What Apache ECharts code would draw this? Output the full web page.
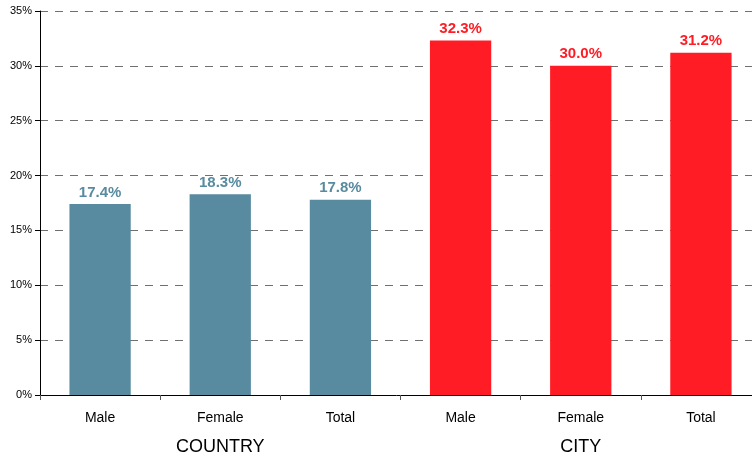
<!DOCTYPE html>
<html>
<head>
	<meta charset="utf-8">
	<title></title>
    <script src="https://cdn.jsdelivr.net/npm/echarts@6/dist/echarts.min.js"></script>
    <style>
        body { margin: 0; background: #fff; }
    </style>
</head>
<body>
    <div id="main" style="width: 752px;height:460px;"></div>
	<script type="text/javascript">
        const categories = ['Male', 'Female', 'Total', 'Male', 'Female', 'Total'];
        const groups = ['COUNTRY', 'CITY'];
        const countryValues = [17.4, 18.3, 17.8, null, null, null];
        const cityValues = [null, null, null, 32.3, 30.0, 31.2];
        const yTicks = [0, 5, 10, 15, 20, 25, 30, 35];

        const teal = '#588b9f';
        const red = '#ff1c24';
        const font = '"Liberation Sans", Arial, sans-serif';

        const myChart = echarts.init(document.getElementById('main'));

        function barSeries(data, color) {
            return {
                type: 'bar',
                data: data,
                barWidth: '51%',
                barGap: '-100%',
                itemStyle: { color: color },
                label: {
                    show: true,
                    position: 'top',
                    distance: 4,
                    color: color,
                    fontFamily: font,
                    fontWeight: 'bold',
                    fontSize: 15,
                    formatter: p => p.value.toFixed(1) + '%'
                },
                z: 3
            };
        }

        const options = {
            animation: false,
            // grid runs past the right edge of the canvas, like the original
            grid: { left: 40, top: 11, width: 721, height: 384, containLabel: false, outerBoundsMode: 'none' },
            xAxis: [{
                type: 'category',
                data: categories,
                axisLine: { lineStyle: { color: '#000', width: 1 } },
                axisTick: { show: true, length: 5, lineStyle: { color: '#555' } },
                axisLabel: { color: '#000', fontFamily: font, fontSize: 14, margin: 16 }
            }, {
                type: 'category',
                data: groups,
                position: 'bottom',
                offset: 36,
                axisLine: { show: false },
                axisTick: { show: false },
                axisLabel: { color: '#000', fontFamily: font, fontSize: 18, margin: 7 }
            }],
            yAxis: {
                type: 'value',
                min: yTicks[0],
                max: yTicks[yTicks.length - 1],
                interval: 5,
                axisLine: { show: true, lineStyle: { color: '#000', width: 1 } },
                axisTick: { show: true, length: 5, lineStyle: { color: '#000' } },
                axisLabel: { color: '#000', fontFamily: font, fontSize: 11, margin: 8, formatter: '{value}%' },
                splitLine: { show: true, lineStyle: { color: '#707070', type: [8, 7], width: 1 } }
            },
            series: [barSeries(countryValues, teal), barSeries(cityValues, red)]
        };

        myChart.setOption(options);
	</script>
</body>
</html>
